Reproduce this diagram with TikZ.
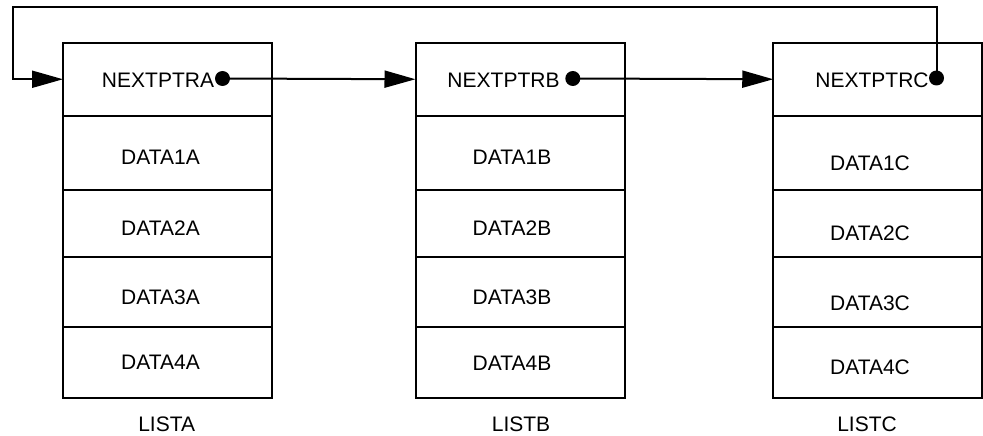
\documentclass[tikz,border=0pt]{standalone}
\usepackage{fontspec}
\setmainfont{Liberation Sans}
\usetikzlibrary{arrows.meta}
\newcommand\lbfont{\fontsize{21}{25}\selectfont}
\begin{document}
\begin{tikzpicture}[x=1pt,y=-1pt,
  cell/.style={draw, line width=2pt, minimum width=209pt, inner sep=0pt, outer sep=0pt},
  lbl/.style={anchor=base, inner sep=0pt, font=\lbfont},
  ptrdot/.style={circle, fill=black, minimum size=15pt, inner sep=0pt, outer sep=0pt},
  arr/.style={line width=2pt, -{Triangle[length=31pt,width=17pt]}}]
\useasboundingbox (0,0) rectangle (983,436);
% cells
\foreach \c/\x in {A/167.5,B/520,C/877.75}{
  \node[cell,minimum height=72.5pt] (\c0) at (\x,79.25) {};
  \node[cell,minimum height=74.5pt] (\c1) at (\x,152.75) {};
  \node[cell,minimum height=66.7pt] (\c2) at (\x,223.35) {};
  \node[cell,minimum height=70pt] (\c3) at (\x,291.7) {};
  \node[cell,minimum height=71.6pt] (\c4) at (\x,362.5) {};
}
% texts A
\node[lbl] (tA0) at (158,87.5) {NEXTPTRA};
\node[lbl] (tA1) at (160.5,164) {DATA1A};
\node[lbl] (tA2) at (160.5,235.8) {DATA2A};
\node[lbl] (tA3) at (160.5,304.5) {DATA3A};
\node[lbl] (tA4) at (160.5,369.5) {DATA4A};
\node[lbl] (lA) at (166.7,431.5) {LISTA};
% texts B
\node[lbl] (tB0) at (503.5,87.5) {NEXTPTRB};
\node[lbl] (tB1) at (512,164.5) {DATA1B};
\node[lbl] (tB2) at (512,235.5) {DATA2B};
\node[lbl] (tB3) at (512,304.5) {DATA3B};
\node[lbl] (tB4) at (512,370.5) {DATA4B};
\node[lbl] (lB) at (521,431.5) {LISTB};
% texts C
\node[lbl] (tC0) at (872,87.5) {NEXTPTRC};
\node[lbl] (tC1) at (870,170.8) {DATA1C};
\node[lbl] (tC2) at (870,240.8) {DATA2C};
\node[lbl] (tC3) at (870,310.8) {DATA3C};
\node[lbl] (tC4) at (870,374.2) {DATA4C};
\node[lbl] (lC) at (867,431.5) {LISTC};
% pointer dots
\node[ptrdot] (dA) at (222.5,78.5) {};
\node[ptrdot] (dB) at (572.8,78.5) {};
\node[ptrdot] (dC) at (936.5,78) {};
% connectors
\draw[arr] (dA.center) -- (B0.west);
\draw[arr] (dB.center) -- (C0.west);
\coordinate (loopL) at (12.7,6.7);
\draw[arr] (dC.center) |- (loopL) |- (A0.west);
\end{tikzpicture}
\end{document}
